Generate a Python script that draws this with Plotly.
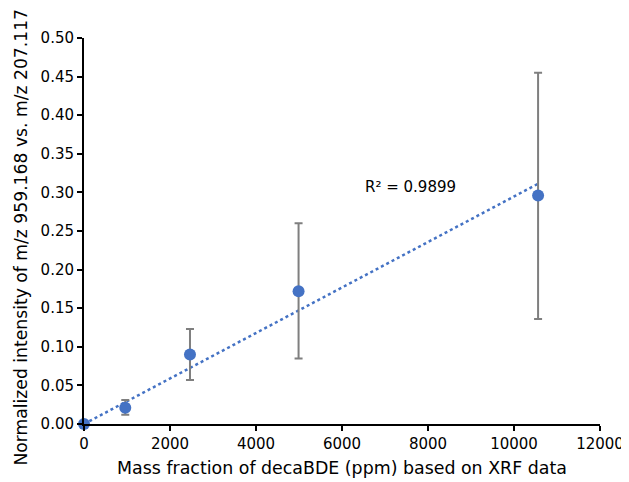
import numpy as np
import plotly.graph_objects as go

mass_ppm = [0, 960, 2465, 4990, 10560]
norm_int = [0.0, 0.021, 0.090, 0.172, 0.296]
err_plus = [0.0, 0.010, 0.033, 0.088, 0.159]
err_minus = [0.0, 0.009, 0.033, 0.087, 0.160]
r2_label = "R² = 0.9899"
x_title = "Mass fraction of decaBDE (ppm) based on XRF data"
y_title = "Normalized intensity of m/z 959.168 vs. m/z 207.117"
x_ticks = [0, 2000, 4000, 6000, 8000, 10000, 12000]
y_ticks = [0.0, 0.05, 0.10, 0.15, 0.20, 0.25, 0.30, 0.35, 0.40, 0.45, 0.50]

x = np.array(mass_ppm, dtype=float)
y = np.array(norm_int, dtype=float)
slope = float((x * y).sum() / (x * x).sum())
fit_x = [0.0, float(x.max())]
fit_y = [slope * v for v in fit_x]

blue = "#4472C4"
font = "DejaVu Sans"

fig = go.Figure()
fig.add_trace(go.Scatter(
    x=fit_x, y=fit_y, mode="lines",
    line=dict(color=blue, width=2.5, dash="dot"),
    hoverinfo="skip", showlegend=False))
fig.add_trace(go.Scatter(
    x=mass_ppm, y=norm_int, mode="markers",
    marker=dict(color=blue, size=12),
    error_y=dict(type="data", symmetric=False, array=err_plus, arrayminus=err_minus,
                 color="#7F7F7F", thickness=2, width=4),
    showlegend=False))

fig.add_annotation(x=7600, y=0.307, text=r2_label, showarrow=False,
                   font=dict(family=font, size=15, color="#000"))

# y-axis title as rotated annotation (to position it like the reference)
fig.add_annotation(x=-0.122, y=0.483, xref="paper", yref="paper", text=y_title,
                   textangle=-90, showarrow=False, xanchor="center", yanchor="middle",
                   font=dict(family=font, size=17.2, color="#000"))

axis_common = dict(showline=True, linecolor="black", linewidth=2, ticks="outside",
                   ticklen=5, tickwidth=2, tickcolor="black", showgrid=False, zeroline=False,
                   automargin=False,
                   tickfont=dict(family=font, size=15, color="#000"))

fig.update_xaxes(range=[0, 12000], tickvals=x_ticks, ticktext=[str(v) for v in x_ticks],
                 title=dict(text=x_title,
                            font=dict(family=font, size=17.4, color="#000"), standoff=10),
                 **axis_common)
fig.update_yaxes(range=[0, 0.5], tickvals=y_ticks, ticktext=[f"{v:.2f}" for v in y_ticks],
                 **axis_common)

fig.update_layout(width=621, height=474, margin=dict(l=76, r=29, t=30, b=58),
                  paper_bgcolor="white", plot_bgcolor="white",
                  font=dict(family=font))
fig.update_traces(cliponaxis=False)
fig.write_html("out.html")
